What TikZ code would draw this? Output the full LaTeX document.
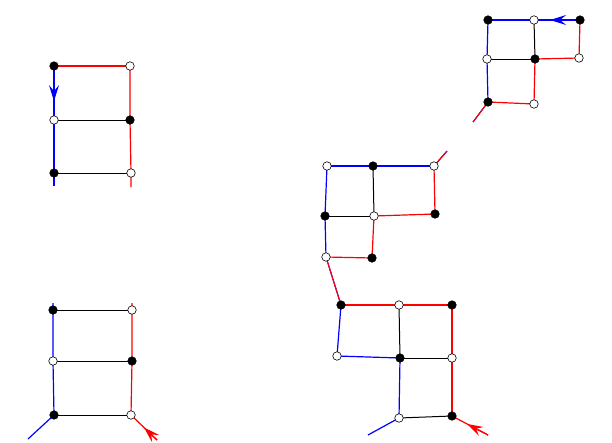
\documentclass[tikz,border=0pt]{standalone}
\usetikzlibrary{arrows.meta}
\pgfdeclarelayer{bg}
\pgfsetlayers{bg,main}
\begin{document}
\begin{tikzpicture}[x=1pt,y=-1pt,
  bn/.style={circle,draw=black,fill=black,line width=0.6pt,minimum size=8.5pt,inner sep=0pt},
  wn/.style={circle,draw=black,fill=white,line width=0.6pt,minimum size=8.5pt,inner sep=0pt},
  rl/.style={draw=red,line width=1.2pt},
  bl/.style={draw=blue,line width=1.2pt},
  kl/.style={draw=black,line width=1pt},
  tip/.style={-{Stealth[length=16pt,width=10pt,inset=6pt]}},
  dbl/.style={line width=1.1pt}]
\useasboundingbox (0,0) rectangle (612,442);
% ---------- ladder A ----------
\node[bn] (a1) at (54,66) {};
\node[wn] (a2) at (130,66) {};
\node[wn] (a3) at (54,120) {};
\node[bn] (a4) at (130,120) {};
\node[bn] (a5) at (54,173) {};
\node[wn] (a6) at (131,173) {};
\coordinate (a7) at (54,186);
\coordinate (a8) at (131,187);
% ---------- ladder B ----------
\node[bn] (b1) at (53,310) {};
\node[wn] (b2) at (132,310) {};
\node[wn] (b3) at (53,361) {};
\node[bn] (b4) at (132,361) {};
\node[bn] (b5) at (54,415) {};
\node[wn] (b6) at (131,415) {};
\coordinate (b7) at (53,303);
\coordinate (b8) at (132,303);
\coordinate (b9) at (28,439);
\coordinate (b10) at (157,440);
% ---------- figure C ----------
\node[bn] (c1) at (488,20) {};
\node[wn] (c2) at (534,20) {};
\node[bn] (c3) at (580,20) {};
\node[wn] (c4) at (487,59) {};
\node[bn] (c5) at (535,59) {};
\node[wn] (c6) at (579,58) {};
\node[bn] (c7) at (488,102) {};
\node[wn] (c8) at (534,104) {};
\coordinate (c9) at (473,122);
% ---------- figure D ----------
\node[wn] (d1) at (327,166) {};
\node[bn] (d2) at (373,166) {};
\node[wn] (d3) at (434,166) {};
\node[bn] (d4) at (325,216) {};
\node[wn] (d5) at (374,216) {};
\node[bn] (d6) at (435,214) {};
\node[wn] (d7) at (326,257) {};
\node[bn] (d8) at (372,258) {};
\coordinate (d9) at (447,151);
% ---------- figure E ----------
\node[bn] (e1) at (341,305) {};
\node[wn] (e2) at (399,305) {};
\node[bn] (e3) at (452,305) {};
\node[wn] (e4) at (337,356) {};
\node[bn] (e5) at (400,358) {};
\node[wn] (e6) at (452,358) {};
\node[wn] (e7) at (399,418) {};
\node[bn] (e8) at (452,416) {};
\coordinate (e9) at (368,435);
\coordinate (e10) at (488,435);
\begin{pgfonlayer}{bg}
% A
\path (a1.center) -- (a3.center) coordinate[pos=0.65] (aarr);
\path[rl] (a1.center) -- (a2.center);
\path[kl] (a3.center) -- (a4.center);
\path[kl] (a5.center) -- (a6.center);
\path[bl] (a1.center) -- (a3.center) -- (a5.center) -- (a7);
\path[bl,tip] (a1.center) -- (aarr);
\path[rl] (a2.center) -- (a4.center) -- (a6.center) -- (a8);
% B
\path (b6.center) -- (b10) coordinate[pos=0.5] (barr);
\path[kl] (b1.center) -- (b2.center);
\path[kl] (b3.center) -- (b4.center);
\path[kl] (b5.center) -- (b6.center);
\path[bl] (b7) -- (b1.center) -- (b3.center) -- (b5.center) -- (b9);
\path[rl] (b8) -- (b2.center) -- (b4.center) -- (b6.center) -- (b10);
\path[rl,tip] (b10) -- (barr);
% C
\path (c3.center) -- (c2.center) coordinate[pos=0.65] (carr);
\path[bl] (c1.center) -- (c2.center) -- (c3.center);
\path[bl,tip] (c3.center) -- (carr);
\path[bl] (c1.center) -- (c4.center) -- (c7.center);
\path[kl] (c2.center) -- (c5.center);
\path[kl] (c4.center) -- (c5.center);
\path[rl] (c5.center) -- (c6.center);
\path[rl] (c3.center) -- (c6.center);
\path[rl] (c5.center) -- (c8.center);
\path[rl] (c7.center) -- (c8.center);
\draw[blue,dbl,xshift=-0.9pt,yshift=-0.7pt] (c7.center) -- (c9);
\draw[red,dbl,xshift=0.9pt,yshift=0.7pt] (c7.center) -- (c9);
% D
\path[bl] (d1.center) -- (d2.center) -- (d3.center);
\path[kl] (d2.center) -- (d5.center);
\path[bl] (d1.center) -- (d4.center) -- (d7.center);
\path[kl] (d4.center) -- (d5.center);
\path[rl] (d5.center) -- (d6.center);
\path[rl] (d3.center) -- (d6.center);
\path[rl] (d5.center) -- (d8.center);
\path[rl] (d7.center) -- (d8.center);
\draw[blue,dbl,xshift=-0.9pt,yshift=0.8pt] (d3.center) -- (d9);
\draw[red,dbl,xshift=0.9pt,yshift=-0.8pt] (d3.center) -- (d9);
\draw[blue,dbl,xshift=-1.1pt] (d7.center) -- (e1.center);
\draw[red,dbl,xshift=1.1pt] (d7.center) -- (e1.center);
% E
\path (e10) -- (e8.center) coordinate[pos=0.58] (earr);
\path[rl] (e1.center) -- (e2.center) -- (e3.center);
\path[rl] (e3.center) -- (e6.center) -- (e8.center);
\path[kl] (e2.center) -- (e5.center);
\path[bl] (e1.center) -- (e4.center) -- (e5.center);
\path[kl] (e5.center) -- (e6.center);
\path[bl] (e5.center) -- (e7.center);
\path[kl] (e7.center) -- (e8.center);
\path[bl] (e7.center) -- (e9);
\path[rl] (e8.center) -- (e10);
\path[rl,tip] (e10) -- (earr);
\end{pgfonlayer}
\end{tikzpicture}
\end{document}
